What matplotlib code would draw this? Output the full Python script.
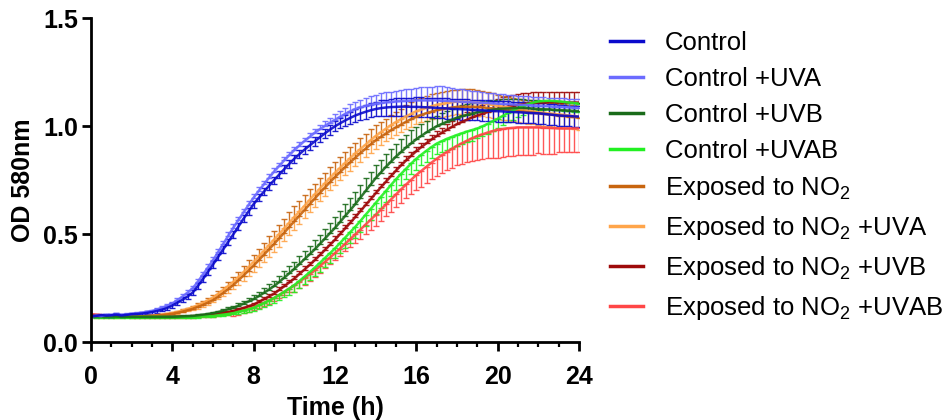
import numpy as np
import matplotlib
matplotlib.use('Agg')
import matplotlib.pyplot as plt
from matplotlib.lines import Line2D
from matplotlib.ticker import MultipleLocator

plt.rcParams['font.family'] = ['Liberation Sans', 'DejaVu Sans']
plt.rcParams['mathtext.fontset'] = 'custom'
plt.rcParams['mathtext.rm'] = 'Liberation Sans'
plt.rcParams['mathtext.it'] = 'Liberation Sans:italic'
plt.rcParams['mathtext.bf'] = 'Liberation Sans:bold'

# sampling every 15 min
time_h = np.arange(0, 24.01, 0.25)

labels = ["Control", "Control +UVA", "Control +UVB", "Control +UVAB",
          "Exposed to NO$_2$", "Exposed to NO$_2$ +UVA",
          "Exposed to NO$_2$ +UVB", "Exposed to NO$_2$ +UVAB"]
colors = ["#0a0acc", "#6b6bff", "#1a6b1a", "#22f022",
          "#c8650f", "#ffa54a", "#9e0a0a", "#ff4646"]

control = [0.120, 0.122, 0.126, 0.124, 0.125, 0.128, 0.124, 0.127,
           0.130, 0.131, 0.133, 0.136, 0.140, 0.145, 0.151, 0.159,
           0.170, 0.183, 0.197, 0.212, 0.230, 0.260, 0.292, 0.326,
           0.360, 0.395, 0.430, 0.465, 0.500, 0.536, 0.572, 0.606,
           0.640, 0.669, 0.697, 0.724, 0.750, 0.776, 0.801, 0.826,
           0.850, 0.871, 0.892, 0.911, 0.930, 0.949, 0.967, 0.984,
           1.000, 1.014, 1.027, 1.039, 1.050, 1.059, 1.067, 1.074,
           1.080, 1.084, 1.087, 1.089, 1.090, 1.091, 1.091, 1.090,
           1.090, 1.089, 1.088, 1.087, 1.085, 1.084, 1.083, 1.081,
           1.080, 1.079, 1.078, 1.076, 1.075, 1.074, 1.072, 1.071,
           1.070, 1.069, 1.067, 1.066, 1.065, 1.064, 1.062, 1.061,
           1.060, 1.058, 1.055, 1.053, 1.050, 1.049, 1.048, 1.046,
           1.045]
control_uva = [0.120, 0.124, 0.121, 0.127, 0.126, 0.130, 0.127, 0.129,
               0.132, 0.134, 0.137, 0.141, 0.145, 0.152, 0.160, 0.169,
               0.180, 0.195, 0.212, 0.230, 0.250, 0.280, 0.313, 0.346,
               0.380, 0.417, 0.455, 0.493, 0.530, 0.566, 0.601, 0.636,
               0.670, 0.701, 0.731, 0.761, 0.790, 0.816, 0.842, 0.866,
               0.890, 0.911, 0.932, 0.951, 0.970, 0.986, 1.002, 1.016,
               1.030, 1.044, 1.057, 1.069, 1.080, 1.088, 1.094, 1.100,
               1.105, 1.108, 1.111, 1.113, 1.115, 1.117, 1.118, 1.119,
               1.120, 1.120, 1.120, 1.120, 1.120, 1.119, 1.118, 1.116,
               1.115, 1.114, 1.113, 1.111, 1.110, 1.109, 1.108, 1.106,
               1.105, 1.104, 1.103, 1.101, 1.100, 1.099, 1.098, 1.096,
               1.095, 1.094, 1.093, 1.091, 1.090, 1.089, 1.088, 1.086,
               1.085]
control_uvb = [0.120, 0.120, 0.119, 0.119, 0.119, 0.119, 0.118, 0.118,
               0.118, 0.118, 0.118, 0.118, 0.118, 0.118, 0.118, 0.118,
               0.118, 0.119, 0.120, 0.121, 0.122, 0.125, 0.128, 0.131,
               0.135, 0.140, 0.146, 0.153, 0.160, 0.169, 0.179, 0.189,
               0.200, 0.214, 0.229, 0.244, 0.260, 0.279, 0.299, 0.319,
               0.340, 0.362, 0.385, 0.407, 0.430, 0.455, 0.480, 0.505,
               0.530, 0.557, 0.585, 0.612, 0.640, 0.670, 0.700, 0.730,
               0.760, 0.786, 0.812, 0.836, 0.860, 0.881, 0.902, 0.921,
               0.940, 0.956, 0.972, 0.986, 1.000, 1.011, 1.021, 1.031,
               1.040, 1.047, 1.053, 1.059, 1.065, 1.069, 1.073, 1.077,
               1.080, 1.082, 1.083, 1.084, 1.085, 1.085, 1.084, 1.082,
               1.080, 1.079, 1.078, 1.076, 1.075, 1.074, 1.073, 1.071,
               1.070]
control_uvab = [0.120, 0.119, 0.119, 0.118, 0.118, 0.118, 0.117, 0.117,
                0.117, 0.117, 0.117, 0.117, 0.117, 0.117, 0.117, 0.117,
                0.117, 0.117, 0.117, 0.118, 0.118, 0.119, 0.120, 0.121,
                0.122, 0.125, 0.128, 0.131, 0.135, 0.141, 0.147, 0.153,
                0.160, 0.171, 0.182, 0.193, 0.205, 0.219, 0.234, 0.249,
                0.265, 0.284, 0.304, 0.324, 0.345, 0.367, 0.390, 0.412,
                0.435, 0.460, 0.485, 0.510, 0.535, 0.562, 0.590, 0.617,
                0.645, 0.673, 0.700, 0.728, 0.755, 0.780, 0.804, 0.828,
                0.850, 0.869, 0.887, 0.904, 0.920, 0.931, 0.942, 0.951,
                0.960, 0.968, 0.976, 0.983, 0.990, 1.000, 1.011, 1.023,
                1.035, 1.048, 1.061, 1.073, 1.085, 1.094, 1.103, 1.110,
                1.115, 1.117, 1.118, 1.117, 1.115, 1.113, 1.110, 1.108,
                1.105]
no2 = [0.120, 0.121, 0.120, 0.119, 0.119, 0.119, 0.119, 0.119,
       0.119, 0.120, 0.120, 0.121, 0.122, 0.124, 0.126, 0.129,
       0.132, 0.137, 0.142, 0.148, 0.155, 0.164, 0.173, 0.184,
       0.195, 0.211, 0.228, 0.246, 0.265, 0.287, 0.309, 0.332,
       0.355, 0.380, 0.405, 0.430, 0.455, 0.481, 0.507, 0.534,
       0.560, 0.586, 0.612, 0.639, 0.665, 0.691, 0.716, 0.741,
       0.765, 0.788, 0.811, 0.833, 0.855, 0.876, 0.896, 0.916,
       0.935, 0.951, 0.966, 0.981, 0.995, 1.008, 1.021, 1.033,
       1.045, 1.053, 1.061, 1.068, 1.075, 1.079, 1.083, 1.087,
       1.090, 1.091, 1.091, 1.091, 1.090, 1.088, 1.085, 1.083,
       1.080, 1.078, 1.075, 1.073, 1.070, 1.068, 1.065, 1.063,
       1.060, 1.058, 1.055, 1.053, 1.050, 1.048, 1.045, 1.043,
       1.040]
no2_uva = [0.120, 0.118, 0.119, 0.119, 0.119, 0.119, 0.119, 0.120,
           0.120, 0.121, 0.121, 0.122, 0.124, 0.126, 0.129, 0.132,
           0.136, 0.141, 0.148, 0.155, 0.162, 0.172, 0.182, 0.194,
           0.207, 0.224, 0.242, 0.261, 0.280, 0.302, 0.325, 0.348,
           0.372, 0.398, 0.423, 0.449, 0.475, 0.501, 0.527, 0.554,
           0.580, 0.606, 0.632, 0.659, 0.685, 0.711, 0.736, 0.761,
           0.785, 0.808, 0.831, 0.853, 0.875, 0.895, 0.915, 0.935,
           0.955, 0.972, 0.989, 1.005, 1.020, 1.033, 1.046, 1.058,
           1.070, 1.078, 1.086, 1.093, 1.100, 1.104, 1.108, 1.112,
           1.115, 1.115, 1.114, 1.112, 1.110, 1.107, 1.103, 1.099,
           1.095, 1.091, 1.088, 1.084, 1.080, 1.076, 1.072, 1.069,
           1.065, 1.063, 1.060, 1.058, 1.055, 1.053, 1.050, 1.048,
           1.045]
no2_uvb = [0.125, 0.124, 0.122, 0.121, 0.120, 0.120, 0.119, 0.119,
           0.119, 0.119, 0.118, 0.118, 0.118, 0.118, 0.118, 0.118,
           0.118, 0.118, 0.119, 0.119, 0.120, 0.121, 0.123, 0.125,
           0.128, 0.132, 0.136, 0.140, 0.145, 0.152, 0.159, 0.167,
           0.175, 0.187, 0.199, 0.212, 0.225, 0.242, 0.259, 0.277,
           0.295, 0.316, 0.337, 0.358, 0.380, 0.403, 0.427, 0.451,
           0.475, 0.501, 0.527, 0.553, 0.580, 0.607, 0.635, 0.662,
           0.690, 0.717, 0.743, 0.769, 0.795, 0.819, 0.842, 0.864,
           0.885, 0.904, 0.922, 0.939, 0.955, 0.970, 0.984, 0.997,
           1.010, 1.021, 1.031, 1.041, 1.050, 1.058, 1.066, 1.073,
           1.080, 1.086, 1.091, 1.096, 1.100, 1.103, 1.106, 1.108,
           1.110, 1.110, 1.111, 1.111, 1.110, 1.110, 1.110, 1.110,
           1.110]
no2_uvab = [0.130, 0.128, 0.126, 0.124, 0.122, 0.121, 0.120, 0.120,
            0.119, 0.119, 0.119, 0.118, 0.118, 0.118, 0.118, 0.118,
            0.118, 0.118, 0.118, 0.119, 0.119, 0.120, 0.121, 0.122,
            0.124, 0.127, 0.130, 0.133, 0.137, 0.143, 0.149, 0.156,
            0.163, 0.173, 0.183, 0.194, 0.205, 0.219, 0.233, 0.248,
            0.263, 0.280, 0.297, 0.315, 0.333, 0.352, 0.372, 0.392,
            0.413, 0.434, 0.456, 0.478, 0.500, 0.522, 0.545, 0.567,
            0.590, 0.614, 0.638, 0.661, 0.685, 0.708, 0.731, 0.753,
            0.775, 0.794, 0.813, 0.832, 0.850, 0.866, 0.881, 0.896,
            0.910, 0.922, 0.934, 0.945, 0.955, 0.963, 0.971, 0.978,
            0.985, 0.988, 0.991, 0.993, 0.995, 0.995, 0.995, 0.995,
            0.995, 0.994, 0.993, 0.992, 0.990, 0.990, 0.990, 0.990,
            0.990]

# SEM values (one-sided for most groups, as in the original figure)
err_control = [.005, .005, .006, .006, .006, .006, .006, .006,
               .006, .006, .007, .007, .007, .008, .008, .009,
               .010, .010, .011, .012, .012, .013, .014, .014,
               .015, .015, .015, .015, .015, .016, .016, .016,
               .016, .016, .017, .017, .017, .017, .018, .018,
               .018, .018, .019, .019, .020, .020, .021, .022,
               .023, .024, .025, .027, .028, .030, .031, .033,
               .034, .036, .037, .039, .040, .041, .042, .043,
               .044, .045, .045, .046, .046, .047, .047, .047,
               .048, .048, .048, .048, .048, .048, .048, .048,
               .048, .048, .048, .048, .048, .048, .048, .048,
               .048, .048, .048, .048, .048, .048, .048, .048,
               .048]
err_control_uva = [.005, .005, .005, .005, .005, .005, .005, .005,
                   .005, .005, .005, .005, .005, .006, .006, .007,
                   .008, .009, .010, .011, .012, .013, .014, .015,
                   .016, .016, .016, .016, .016, .016, .016, .016,
                   .016, .016, .016, .016, .016, .016, .016, .016,
                   .016, .016, .016, .016, .018, .020, .022, .024,
                   .026, .028, .030, .032, .034, .036, .038, .040,
                   .042, .044, .046, .048, .050, .052, .054, .056,
                   .058, .060, .062, .064, .066, .066, .064, .062,
                   .060, .058, .056, .054, .052, .050, .048, .046,
                   .045, .044, .043, .042, .040, .040, .040, .040,
                   .040, .040, .040, .040, .040, .040, .040, .040,
                   .040]
err_control_uvb = [.005, .005, .005, .005, .005, .005, .005, .005,
                   .005, .005, .005, .005, .005, .005, .005, .005,
                   .005, .005, .005, .005, .005, .005, .005, .005,
                   .006, .007, .008, .009, .010, .012, .014, .016,
                   .018, .020, .022, .024, .026, .028, .030, .032,
                   .034, .036, .038, .040, .042, .044, .046, .048,
                   .050, .052, .054, .056, .058, .060, .060, .060,
                   .060, .060, .060, .060, .060, .060, .060, .060,
                   .058, .056, .054, .052, .050, .050, .050, .050,
                   .050, .050, .050, .050, .048, .047, .046, .045,
                   .044, .043, .042, .041, .040, .040, .040, .040,
                   .040, .040, .040, .040, .040, .040, .040, .040,
                   .040]
err_control_uvab = [.005, .005, .005, .005, .005, .005, .005, .005,
                    .005, .005, .005, .005, .005, .005, .005, .005,
                    .005, .005, .005, .005, .005, .005, .005, .005,
                    .005, .005, .005, .005, .006, .008, .010, .012,
                    .014, .016, .018, .020, .022, .024, .026, .028,
                    .030, .032, .034, .036, .038, .040, .042, .044,
                    .046, .048, .050, .050, .050, .050, .050, .050,
                    .050, .050, .050, .050, .050, .050, .050, .050,
                    .050, .050, .050, .050, .050, .050, .050, .050,
                    .050, .050, .050, .050, .045, .045, .045, .045,
                    .044, .044, .043, .043, .042, .042, .041, .041,
                    .040, .040, .040, .040, .040, .040, .040, .040,
                    .040]
err_no2 = [.005, .005, .005, .005, .005, .005, .005, .005,
           .005, .005, .005, .005, .005, .005, .005, .005,
           .006, .008, .010, .012, .014, .016, .018, .021,
           .024, .027, .030, .033, .036, .040, .044, .048,
           .051, .054, .057, .060, .062, .064, .066, .068,
           .070, .070, .070, .070, .070, .070, .070, .070,
           .070, .070, .070, .070, .070, .070, .070, .070,
           .070, .070, .070, .070, .072, .074, .076, .078,
           .080, .080, .080, .080, .080, .080, .080, .080,
           .080, .080, .080, .080, .078, .075, .072, .069,
           .066, .063, .060, .058, .055, .055, .055, .055,
           .055, .055, .055, .055, .055, .055, .055, .055,
           .055]
err_no2_uva = [.005, .005, .005, .005, .005, .005, .005, .005,
               .005, .005, .005, .005, .005, .005, .005, .005,
               .006, .008, .010, .012, .014, .016, .018, .020,
               .022, .025, .028, .031, .034, .037, .040, .043,
               .046, .049, .052, .055, .058, .058, .058, .058,
               .058, .058, .058, .058, .058, .058, .058, .058,
               .058, .058, .058, .058, .058, .058, .058, .058,
               .058, .058, .058, .058, .060, .060, .060, .060,
               .060, .060, .060, .060, .060, .060, .060, .060,
               .060, .060, .060, .060, .060, .060, .060, .060,
               .060, .060, .060, .060, .060, .060, .060, .060,
               .060, .060, .060, .060, .060, .060, .060, .060,
               .060]
err_no2_uvb = [.005, .005, .005, .005, .005, .005, .005, .005,
               .005, .005, .005, .005, .005, .005, .005, .005,
               .005, .005, .005, .005, .005, .005, .005, .005,
               .005, .005, .005, .005, .005, .005, .005, .005,
               .008, .009, .010, .011, .012, .012, .013, .013,
               .013, .014, .014, .014, .014, .015, .015, .015,
               .015, .015, .015, .015, .015, .015, .015, .015,
               .016, .016, .017, .017, .018, .018, .019, .019,
               .020, .020, .021, .021, .022, .024, .026, .028,
               .030, .032, .034, .036, .038, .040, .042, .044,
               .046, .048, .050, .050, .050, .050, .050, .050,
               .050, .050, .050, .050, .050, .050, .050, .050,
               .050]
err_no2_uvab = [.005, .005, .005, .005, .005, .005, .005, .005,
                .005, .005, .005, .005, .005, .005, .005, .005,
                .005, .005, .005, .005, .005, .005, .005, .005,
                .005, .005, .005, .005, .015, .015, .015, .015,
                .015, .015, .015, .015, .015, .015, .015, .015,
                .030, .030, .030, .030, .030, .030, .030, .030,
                .030, .033, .035, .038, .040, .043, .045, .048,
                .050, .053, .055, .058, .060, .063, .065, .068,
                .070, .073, .075, .078, .080, .083, .085, .088,
                .090, .095, .100, .105, .110, .115, .120, .125,
                .130, .130, .130, .130, .130, .130, .130, .130,
                .120, .120, .120, .120, .110, .110, .110, .110,
                .110]

series = [control, control_uva, control_uvb, control_uvab,
          no2, no2_uva, no2_uvb, no2_uvab]
errors = [err_control, err_control_uva, err_control_uvb, err_control_uvab,
          err_no2, err_no2_uva, err_no2_uvb, err_no2_uvab]
# 'both', 'up' or 'down'
err_dir = ['both', 'up', 'up', 'down', 'up', 'down', 'up', 'down']

fig = plt.figure(figsize=(9.51, 4.2), dpi=100)
ax = fig.add_axes([91/951, 1 - 342.3/420, (579 - 91)/951, (342.3 - 18.3)/420])

# draw last group first so Control ends up on top
for i in reversed(range(len(series))):
    y = np.array(series[i])
    e = np.array(errors[i])
    lo = e if err_dir[i] in ('both', 'down') else np.zeros_like(e)
    hi = e if err_dir[i] in ('both', 'up') else np.zeros_like(e)
    ax.errorbar(time_h, y, yerr=[lo, hi], color=colors[i], lw=1.8,
                elinewidth=1.0, capsize=2.0, capthick=1.0, alpha=0.9)

ax.set_xlim(0, 24)
ax.set_ylim(0, 1.5)
ax.set_xticks([0, 4, 8, 12, 16, 20, 24])
ax.xaxis.set_minor_locator(MultipleLocator(1))
ax.set_yticks([0.0, 0.5, 1.0, 1.5])
ax.set_yticklabels(['0.0', '0.5', '1.0', '1.5'])

for s in ['top', 'right']:
    ax.spines[s].set_visible(False)
for s in ['left', 'bottom']:
    ax.spines[s].set_linewidth(2.0)
ax.tick_params(which='major', direction='out', length=6.5, width=2.0,
               labelsize=18, pad=3)
ax.tick_params(axis='x', which='major', pad=10)
ax.tick_params(which='minor', direction='out', length=3.5, width=1.6)
for lab in ax.get_xticklabels() + ax.get_yticklabels():
    lab.set_fontweight('bold')

ax.set_xlabel('Time (h)', fontsize=18, fontweight='bold', labelpad=5)
ax.set_ylabel('OD 580nm', fontsize=18, fontweight='bold', labelpad=6)

handles = [Line2D([0], [0], color=c, lw=2.5) for c in colors]
fig.legend(handles, labels, loc='upper left', bbox_to_anchor=(610/951, 0.926),
           frameon=False, fontsize=18.5, handlelength=1.3, handletextpad=0.85,
           labelspacing=0.46, borderpad=0, borderaxespad=0)

fig.savefig('out.png', dpi=100)
